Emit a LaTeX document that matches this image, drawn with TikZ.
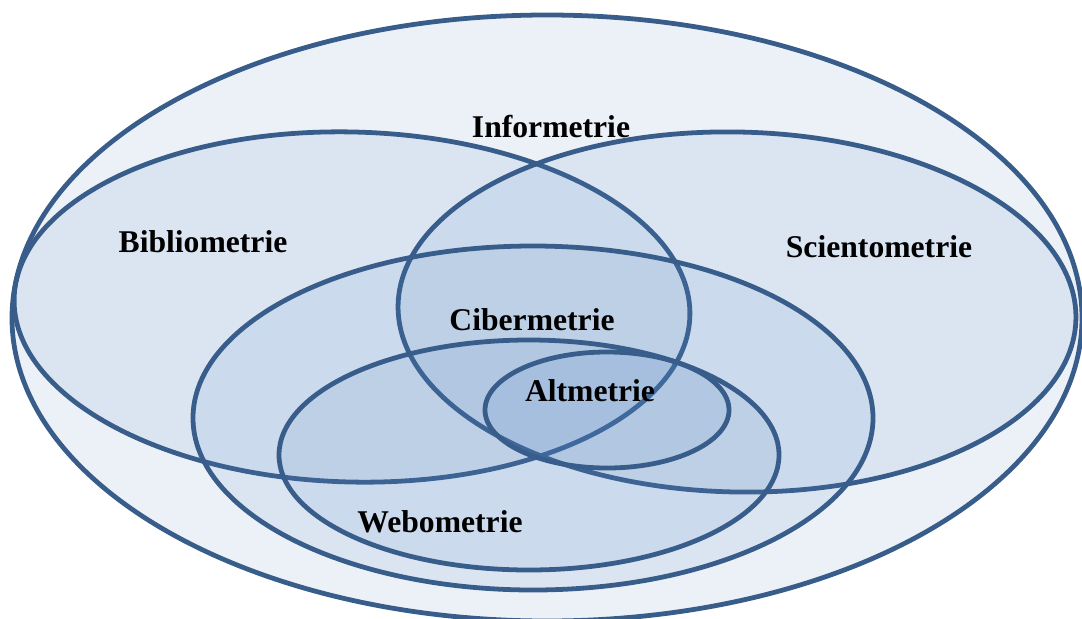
\documentclass[tikz,border=0pt]{standalone}
\usepackage{fontspec}
\setmainfont{Liberation Serif}
\definecolor{vennline}{HTML}{385D8A}
\definecolor{vennfill}{HTML}{4F81BD}
\begin{document}
\begin{tikzpicture}
    [x=0.025cm, y=-0.025cm,
    set/.style={draw=vennline, line width=3.4pt, fill=vennfill, fill opacity=0.11},
    setname/.style={font=\fontsize{22.5}{27}\selectfont\bfseries, text=black, inner sep=0pt}]
    \useasboundingbox (0,0) rectangle (1082,618);
    \clip (0,0) rectangle (1082,618);
    % outer set
    \draw[set] (547,318) ellipse [x radius=535, y radius=303];
    % the two big sets
    \draw[set, rotate around={-1.5:(352,307)}] (352,307) ellipse [x radius=338, y radius=175];
    \draw[set, rotate around={-1.2:(737,312)}] (737,312) ellipse [x radius=339, y radius=180];
    % nested sets
    \draw[set] (533,418) ellipse [x radius=340, y radius=172];
    \draw[set] (529,455) ellipse [x radius=250, y radius=115];
    \draw[set] (607,410) ellipse [x radius=122, y radius=58];
    % names
    \node[setname] (informetrie) at (551,127) {Informetrie};
    \node[setname] (bibliometrie) at (203,242) {Bibliometrie};
    \node[setname] (scientometrie) at (879,247) {Scientometrie};
    \node[setname] (cibermetrie) at (532,320) {Cibermetrie};
    \node[setname] (altmetrie) at (590,391) {Altmetrie};
    \node[setname] (webometrie) at (440,522) {Webometrie};
\end{tikzpicture}
\end{document}
